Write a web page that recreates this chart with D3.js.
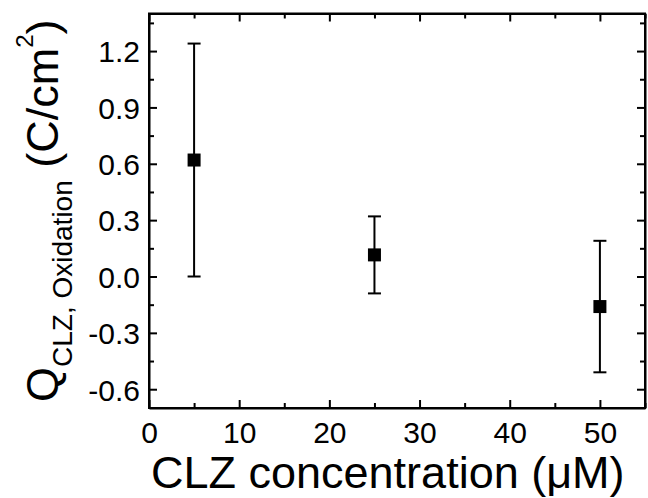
<!DOCTYPE html>
<html>
<head>
<meta charset="utf-8">
<script src="https://cdn.jsdelivr.net/npm/d3@7"></script>
<style>
html, body { margin: 0; padding: 0; background: #fff; }
svg { display: block; }
text { font-family: "Liberation Sans", Arial, sans-serif; fill: #000; }
</style>
</head>
<body>
<svg id="chart" width="648" height="498"></svg>
<script>
// ---- data ----
const concentrations = [5, 25, 50];
const charge = [0.62, 0.115, -0.16];
const chargeErr = [0.62, 0.205, 0.35];
const xMajorTicks = [0, 10, 20, 30, 40, 50];
const xMinorTicks = [5, 15, 25, 35, 45, 55];
const yMajorTicks = [-0.6, -0.3, 0.0, 0.3, 0.6, 0.9, 1.2];
const yMinorTicks = [-0.45, -0.15, 0.15, 0.45, 0.75, 1.05, 1.35];
const yTickLabels = ["-0.6", "-0.3", "0.0", "0.3", "0.6", "0.9", "1.2"];

const svg = d3.select("#chart");
const L = 149, R = 645, T = 13.5, B = 408;

const x = d3.scaleLinear().domain([0, 55]).range([L, R]);
const y = d3.scaleLinear().domain([-0.7, 1.4]).range([B, T]);

const majorLen = 8, minorLen = 5;

function styleAxis(g) {
  g.selectAll("path.domain").attr("stroke", "#000").attr("stroke-width", 2);
  g.selectAll(".tick line").attr("stroke", "#000").attr("stroke-width", 2);
  g.selectAll(".tick text").style("font-size", "30px").attr("fill", "#000");
}

// bottom
const gB = svg.append("g").attr("transform", `translate(0,${B})`)
  .call(d3.axisBottom(x).tickValues(xMajorTicks).tickSizeInner(-majorLen).tickSizeOuter(0)
    .tickPadding(0).tickFormat(d3.format("d")));
styleAxis(gB);
gB.selectAll(".tick text").attr("y", 35).attr("dy", 0);
svg.append("g").attr("transform", `translate(0,${B})`)
  .call(d3.axisBottom(x).tickValues(xMinorTicks).tickSizeInner(-minorLen).tickSizeOuter(0).tickFormat(""))
  .call(g => { styleAxis(g); g.select("path.domain").remove(); });

// top
const gT = svg.append("g").attr("transform", `translate(0,${T})`)
  .call(d3.axisTop(x).tickValues(xMajorTicks).tickSizeInner(-majorLen).tickSizeOuter(0).tickFormat(""));
styleAxis(gT);
svg.append("g").attr("transform", `translate(0,${T})`)
  .call(d3.axisTop(x).tickValues(xMinorTicks).tickSizeInner(-minorLen).tickSizeOuter(0).tickFormat(""))
  .call(g => { styleAxis(g); g.select("path.domain").remove(); });

// left
const gL = svg.append("g").attr("transform", `translate(${L},0)`)
  .call(d3.axisLeft(y).tickValues(yMajorTicks).tickSizeInner(-majorLen).tickSizeOuter(0)
    .tickPadding(9).tickFormat((d, i) => yTickLabels[i]));
styleAxis(gL);
gL.selectAll(".tick text").attr("dy", "0.36em");
svg.append("g").attr("transform", `translate(${L},0)`)
  .call(d3.axisLeft(y).tickValues(yMinorTicks).tickSizeInner(-minorLen).tickSizeOuter(0).tickFormat(""))
  .call(g => { styleAxis(g); g.select("path.domain").remove(); });

// right
const gR = svg.append("g").attr("transform", `translate(${R},0)`)
  .call(d3.axisRight(y).tickValues(yMajorTicks).tickSizeInner(-majorLen).tickSizeOuter(0).tickFormat(""));
styleAxis(gR);
svg.append("g").attr("transform", `translate(${R},0)`)
  .call(d3.axisRight(y).tickValues(yMinorTicks).tickSizeInner(-minorLen).tickSizeOuter(0).tickFormat(""))
  .call(g => { styleAxis(g); g.select("path.domain").remove(); });

// frame corners
svg.append("rect").attr("x", L).attr("y", T).attr("width", R - L).attr("height", B - T)
  .attr("fill", "none").attr("stroke", "#000").attr("stroke-width", 2);

// data
const pts = concentrations.map((c, i) => ({ c, v: charge[i], e: chargeErr[i] }));
const capW = 13, mk = 13;
const gD = svg.append("g");
gD.selectAll("line.bar").data(pts).join("line")
  .attr("x1", d => x(d.c)).attr("x2", d => x(d.c))
  .attr("y1", d => y(d.v + d.e)).attr("y2", d => y(d.v - d.e))
  .attr("stroke", "#000").attr("stroke-width", 2);
gD.selectAll("line.capT").data(pts).join("line")
  .attr("x1", d => x(d.c) - capW / 2).attr("x2", d => x(d.c) + capW / 2)
  .attr("y1", d => y(d.v + d.e)).attr("y2", d => y(d.v + d.e))
  .attr("stroke", "#000").attr("stroke-width", 2);
gD.selectAll("line.capB").data(pts).join("line")
  .attr("x1", d => x(d.c) - capW / 2).attr("x2", d => x(d.c) + capW / 2)
  .attr("y1", d => y(d.v - d.e)).attr("y2", d => y(d.v - d.e))
  .attr("stroke", "#000").attr("stroke-width", 2);
gD.selectAll("rect.mk").data(pts).join("rect")
  .attr("x", d => x(d.c) - mk / 2).attr("y", d => y(d.v) - mk / 2)
  .attr("width", mk).attr("height", mk).attr("fill", "#000");

// x label
svg.append("text").attr("x", 151).attr("y", 488)
  .style("font-size", "45px").text("CLZ concentration (\u03BCM)");

// y label
const yl = svg.append("text")
  .attr("transform", "translate(58,402) rotate(-90)")
  .attr("x", 0).attr("y", 0)
  .style("font-size", "45px");
yl.append("tspan").text("Q");
yl.append("tspan").attr("dy", 13.7).style("font-size", "28px").text("CLZ, Oxidation");
yl.append("tspan").attr("dy", -13.7).style("font-size", "45px").text(" (C/cm");
yl.append("tspan").attr("dy", -25).style("font-size", "24px").text("2");
yl.append("tspan").attr("dy", 25).style("font-size", "45px").text(")");
</script>
</body>
</html>
